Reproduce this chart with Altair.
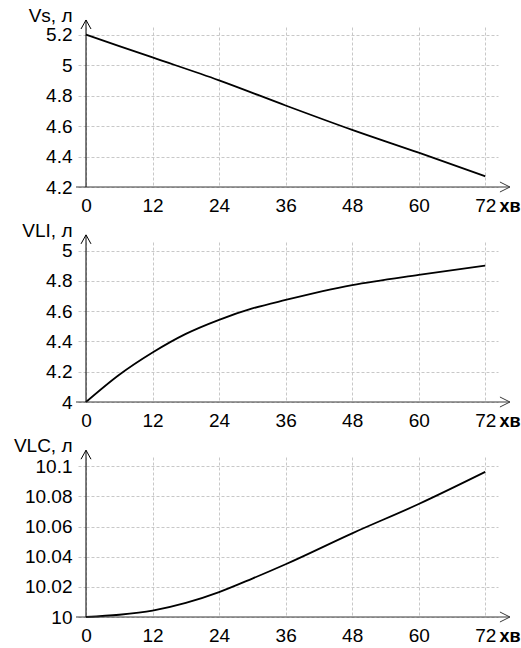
import altair as alt
import pandas as pd

# Time in minutes
t_vs = [0, 12, 24, 36, 48, 60, 72]
vs = [5.2, 5.05, 4.90, 4.735, 4.575, 4.425, 4.27]

t_vli = [0, 6, 12, 18, 24, 30, 36, 48, 60, 72]
vli = [4.0, 4.18, 4.327, 4.45, 4.543, 4.618, 4.674, 4.772, 4.840, 4.901]

t_vlc = [0, 6, 12, 18, 24, 30, 36, 48, 60, 72]
vlc = [10.0, 10.0015, 10.0042, 10.0093, 10.0165, 10.0255, 10.035, 10.0555, 10.0749, 10.0962]

x_ticks = [0, 12, 24, 36, 48, 60, 72]
vs_ticks = [4.2, 4.4, 4.6, 4.8, 5.0, 5.2]
vli_ticks = [4.0, 4.2, 4.4, 4.6, 4.8, 5.0]
vlc_ticks = [10.0, 10.02, 10.04, 10.06, 10.08, 10.1]

FONT = "Liberation Sans"
FS = 19
GRID = "#c8c8c8"
X_END = 74.3      # right edge of the grid
X_TIP = 76.45     # tip of the horizontal arrow
X_LEFT = -1.8     # horizontal axis starts a little left of the vertical one
W, H = 412, 160

UP_ARROW = "M -1 1.8 L 0 0 L 1 1.8"
RIGHT_ARROW = "M -2 -1 L 0 0 L -2 1"


def panel(t, v, ticks, y_top, y_tip, title):
    y_min = ticks[0]
    df = pd.DataFrame({"t": t, "v": v})
    one = pd.DataFrame({"k": [0]})
    xs = alt.Scale(domain=[0, X_END], nice=False, zero=False)
    ys = alt.Scale(domain=[y_min, y_top], nice=False, zero=False)

    curve = alt.Chart(df).mark_line(
        color="black", strokeWidth=1.8, interpolate="monotone"
    ).encode(
        x=alt.X("t:Q", scale=xs, axis=alt.Axis(
            values=x_ticks, tickCount=20, format="d", domain=False, ticks=False,
            grid=True, gridColor=GRID, gridDash=[3, 2], gridWidth=1,
            labelPadding=9, labelFont=FONT, labelFontSize=FS,
            labelColor="black", labelFlush=False, labelOverlap=False,
            title="хв", titleFont=FONT, titleFontSize=18,
            titleFontWeight="bold", titleColor="black",
            titleX=W + 1, titleY=10, titleAlign="left",
            titleBaseline="top", titleAnchor="start")),
        y=alt.Y("v:Q", scale=ys, axis=alt.Axis(
            values=ticks, tickCount=20, format="~g", domain=False,
            grid=True, gridColor=GRID, gridDash=[3, 2], gridWidth=1,
            ticks=True, tickSize=9, tickColor=GRID, tickDash=[3, 2],
            labelPadding=5, labelFont=FONT, labelFontSize=FS,
            labelColor="black", labelFlush=False, labelOverlap=False,
            title=title, titleFont=FONT, titleFontSize=FS,
            titleFontWeight="normal", titleColor="black", titleAngle=0,
            titleX=-14, titleY=-6, titleAlign="right",
            titleBaseline="alphabetic")),
    )

    x_axis = alt.Chart(one).mark_rule(color="#3a3a3a", strokeWidth=1.2).encode(
        x=alt.datum(X_LEFT, scale=xs), x2=alt.datum(X_TIP), y=alt.datum(y_min, scale=ys))
    y_axis = alt.Chart(one).mark_rule(color="black", strokeWidth=1).encode(
        x=alt.datum(0, scale=xs), y=alt.datum(y_min, scale=ys), y2=alt.datum(y_tip))
    up = alt.Chart(one).mark_point(
        shape=UP_ARROW, size=100, filled=False, stroke="black",
        strokeWidth=1, opacity=1
    ).encode(x=alt.datum(0, scale=xs), y=alt.datum(y_tip, scale=ys))
    right = alt.Chart(one).mark_point(
        shape=RIGHT_ARROW, size=100, filled=False, stroke="#3a3a3a",
        strokeWidth=1, opacity=1
    ).encode(x=alt.datum(X_TIP, scale=xs), y=alt.datum(y_min, scale=ys))

    return alt.layer(curve, x_axis, y_axis, up, right).properties(width=W, height=H)


p1 = panel(t_vs, vs, vs_ticks, 5.25, 5.296, "Vs, л")
p2 = panel(t_vli, vli, vli_ticks, 5.057, 5.104, "VLI, л")
p3 = panel(t_vlc, vlc, vlc_ticks, 10.1061, 10.1106, "VLC, л")

chart = alt.vconcat(p1, p2, p3, spacing=55, bounds="flush").properties(
    padding={"left": 13, "top": 6, "right": 0, "bottom": 0},
    background="white",
).configure_view(stroke=None)

chart.save("out.html", embed_options={"renderer": "svg", "actions": False})
